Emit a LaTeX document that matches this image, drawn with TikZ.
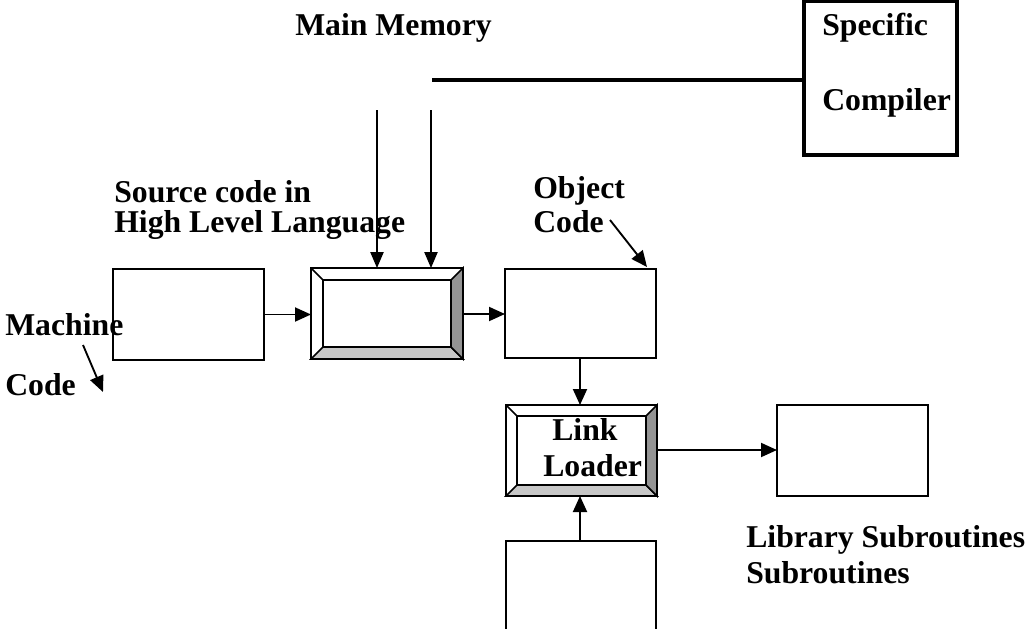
\documentclass[tikz,border=0pt]{standalone}
\usepackage{fontspec}
\setmainfont{Liberation Serif}
\usetikzlibrary{fit,calc,arrows.meta}

% bevelled (raised) box around an existing node: #1 node name, #2 bevel depth
\newcommand\raisedframe[2]{%
  \fill[white] (#1.north west) rectangle (#1.south east);
  \filldraw[fill=black!22, line width=1.2pt]
    (#1.south west) -- (#1.south east) -- ($(#1.south east)+(-#2,-#2)$) -- ($(#1.south west)+(#2,-#2)$) -- cycle;
  \filldraw[fill=black!42, line width=1.2pt]
    (#1.north east) -- (#1.south east) -- ($(#1.south east)+(-#2,-#2)$) -- ($(#1.north east)+(-#2,#2)$) -- cycle;
  \draw[line width=1.2pt] (#1.north west) -- ($(#1.north west)+(#2,#2)$);
  \draw[line width=1.2pt] ($(#1.north west)+(#2,#2)$) rectangle ($(#1.south east)+(-#2,-#2)$);
  \draw[line width=1.5pt] (#1.north west) rectangle (#1.south east);
}

\begin{document}
\begin{tikzpicture}[x=0.75pt,y=-0.75pt,
  box/.style={draw, line width=1.5pt, inner sep=0pt, outer sep=0pt},
  heavybox/.style={draw, line width=2.3pt, inner sep=0pt, outer sep=0pt},
  lbl/.style={font=\fontsize{23.8}{26}\selectfont\bfseries, inner sep=0pt, anchor=base west},
  arr/.style={-{Triangle[length=12pt,width=10.5pt]}, line width=1.4pt},
  thinarr/.style={-{Triangle[length=12pt,width=10pt]}, line width=1pt},
]
\clip (0,0) rectangle (1026,629);
\fill[white] (0,0) rectangle (1026,629);

% boxes
\node[box, fit={(113,269) (264,360)}] (machine) {};
\node[box, fit={(311,268) (463,359)}] (compile) {};
\node[box, fit={(505,269) (656,358)}] (object) {};
\node[box, fit={(506,405) (657,496)}] (linker) {};
\node[box, fit={(777,405) (928,496)}] (library) {};
\node[box, fit={(506,541) (656,660)}] (input) {};
\node[heavybox, fit={(804,1) (957,155)}] (specific) {};

\raisedframe{compile}{12}
\raisedframe{linker}{11}

% labels
\node[lbl] (mainmem) at (295,35) {Main Memory};
\node[lbl] (spec1) at (822,35) {Specific};
\node[lbl] (spec2) at (822,110) {Compiler};
\node[lbl] (src1) at (114,202) {Source code in};
\node[lbl] (src2) at (114,232) {High Level Language};
\node[lbl] (obj1) at (533,198) {Object};
\node[lbl] (obj2) at (533,232) {Code};
\node[lbl] (mc1) at (5,335) {Machine};
\node[lbl] (mc2) at (5,395) {Code};
\node[lbl] (link1) at (552,440) {Link};
\node[lbl] (link2) at (543,476) {Loader};
\node[lbl] (lib1) at (746,547) {Library Subroutines};
\node[lbl] (lib2) at (746,583) {Subroutines};

% memory feed
\coordinate (mm) at (432,80);
\coordinate (feedA) at (377,110);
\coordinate (feedB) at (431,110);
\draw[line width=2.3pt] (mm) -- (mm -| specific.west);
\draw[thinarr] (feedA) -- (feedA |- compile.north);
\draw[thinarr] (feedB) -- (feedB |- compile.north);

% flow
\draw[arr] (machine.east) -- (machine.east -| compile.west);
\coordinate (cout) at (463,314);
\draw[arr] (cout) -- (cout -| object.west);
\coordinate (odown) at (580,358);
\draw[arr] (odown) -- (odown |- linker.north);
\coordinate (lright) at (657,450);
\draw[arr] (lright) -- (lright -| library.west);
\coordinate (iup) at (580,541);
\draw[arr] (iup) -- (iup |- linker.south);

% pointer arrows of the labels
\coordinate (mcA) at (83,345);
\coordinate (mcB) at (103,392);
\draw[arr] (mcA) -- (mcB);
\coordinate (ocA) at (610,220);
\coordinate (ocB) at (647,267);
\draw[arr] (ocA) -- (ocB);
\end{tikzpicture}
\end{document}
